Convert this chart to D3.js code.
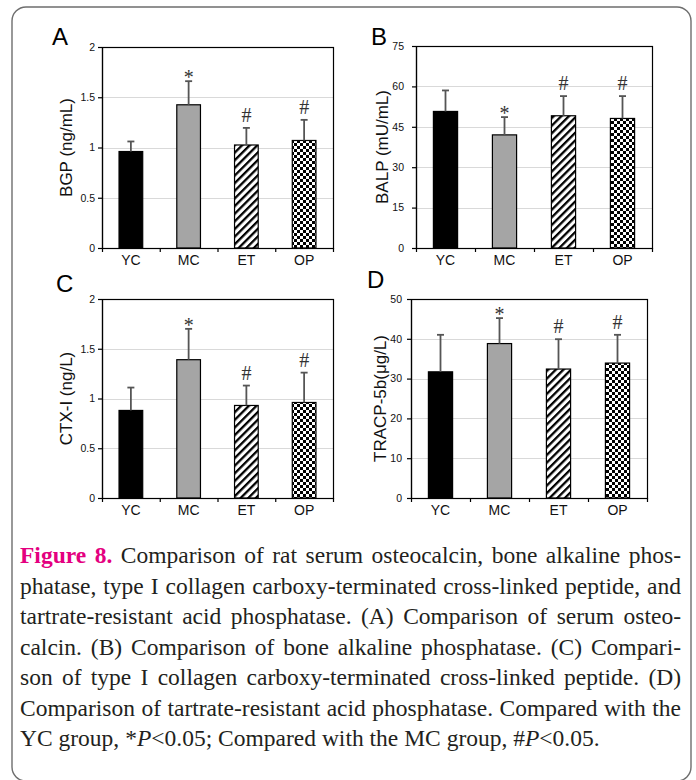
<!DOCTYPE html>
<html>
<head>
<meta charset="utf-8">
<script src="https://cdn.jsdelivr.net/npm/d3@7"></script>
<style>
  body { margin: 0; background: #fff; }
</style>
</head>
<body>
<div id="fig"></div>
<script>
// groups and significance marks (* vs YC, # vs MC)
var groups = ["YC", "MC", "ET", "OP"];
var marks = ["", "*", "#", "#"];

// A - BGP (ng/mL)
var bgpMean = [0.96, 1.425, 1.025, 1.07];
var bgpSd = [0.10, 0.235, 0.17, 0.205];
var bgpTicks = [0, 0.5, 1, 1.5, 2];

// B - BALP (mU/mL)
var balpMean = [50.7, 42.0, 49.1, 48.1];
var balpSd = [7.8, 6.6, 7.3, 8.3];
var balpTicks = [0, 15, 30, 45, 60, 75];

// C - CTX-I (ng/L)
var ctxMean = [0.88, 1.39, 0.93, 0.96];
var ctxSd = [0.23, 0.31, 0.20, 0.30];
var ctxTicks = [0, 0.5, 1, 1.5, 2];

// D - TRACP-5b (ug/L)
var tracpMean = [31.7, 38.8, 32.4, 33.9];
var tracpSd = [9.3, 6.4, 7.5, 7.1];
var tracpTicks = [0, 10, 20, 30, 40, 50];

// caption, one entry per printed line ("^" = bold magenta word, ~x~ = italic)
var captionLines = [
    "^Figure ^8. Comparison of rat serum osteocalcin, bone alkaline phos-",
    "phatase, type I collagen carboxy-terminated cross-linked peptide, and",
    "tartrate-resistant acid phosphatase. (A) Comparison of serum osteo-",
    "calcin. (B) Comparison of bone alkaline phosphatase. (C) Compari-",
    "son of type I collagen carboxy-terminated cross-linked peptide. (D)",
    "Comparison of tartrate-resistant acid phosphatase. Compared with the",
    "YC group, *~P~<0.05; Compared with the MC group, #~P~<0.05."
];

var W = 696, H = 780;
var svg = d3.select("#fig").append("svg")
    .attr("width", W)
    .attr("height", H)
    .style("display", "block");

// patterns for ET (hatch) and OP (checker)
var defs = svg.append("defs");
var hatch = defs.append("pattern")
    .attr("id", "hatch")
    .attr("patternUnits", "userSpaceOnUse")
    .attr("width", 5.4)
    .attr("height", 5.4)
    .attr("patternTransform", "rotate(45)");
hatch.append("rect").attr("width", 5.4).attr("height", 5.4).attr("fill", "#fff");
hatch.append("rect").attr("width", 2.3).attr("height", 5.4).attr("fill", "#000");

var checker = defs.append("pattern")
    .attr("id", "checker")
    .attr("patternUnits", "userSpaceOnUse")
    .attr("width", 6)
    .attr("height", 6);
checker.append("rect").attr("width", 6).attr("height", 6).attr("fill", "#fff");
checker.append("rect").attr("width", 3).attr("height", 3).attr("fill", "#000");
checker.append("rect").attr("x", 3).attr("y", 3).attr("width", 3).attr("height", 3).attr("fill", "#000");

var fills = ["#000", "#a5a5a5", "url(#hatch)", "url(#checker)"];

// outer rounded frame
svg.append("rect")
    .attr("x", 12)
    .attr("y", 7)
    .attr("width", 679)
    .attr("height", 774)
    .attr("rx", 14)
    .attr("fill", "none")
    .attr("stroke", "#6e6e6e")
    .attr("stroke-width", 1.4);

var panels = [
    {letter: "A", lx: 52, ly: 45, left: 102, top: 47, width: 231, height: 201,
        mean: bgpMean, sd: bgpSd, ticks: bgpTicks, title: "BGP (ng/mL)", tx: 66, labelGap: 7},
    {letter: "B", lx: 371, ly: 45, left: 416, top: 46, width: 236, height: 202,
        mean: balpMean, sd: balpSd, ticks: balpTicks, title: "BALP (mU/mL)", tx: 382, labelGap: 12},
    {letter: "C", lx: 56, ly: 292, left: 102, top: 299, width: 231, height: 199,
        mean: ctxMean, sd: ctxSd, ticks: ctxTicks, title: "CTX-I (ng/L)", tx: 66, labelGap: 7},
    {letter: "D", lx: 367, ly: 288, left: 411, top: 299, width: 236, height: 199,
        mean: tracpMean, sd: tracpSd, ticks: tracpTicks, title: "TRACP-5b(\u03bcg/L)", tx: 380, labelGap: 9}
];

panels.forEach(drawPanel);

function drawPanel(p) {
    var g = svg.append("g")
        .attr("transform", "translate(" + p.left + "," + p.top + ")")
        .attr("font-family", "'Liberation Sans', Arial, sans-serif");

    var x = d3.scaleBand().domain(groups).range([0, p.width]).padding(0);
    var y = d3.scaleLinear().domain([0, d3.max(p.ticks)]).range([p.height, 0]);
    var bw = x.bandwidth() * 0.41;

    // light gridlines
    g.selectAll("line.grid")
        .data(p.ticks.slice(1, -1))
        .enter()
        .append("line")
        .attr("class", "grid")
        .attr("x1", 0)
        .attr("x2", p.width)
        .attr("y1", function (d) { return Math.round(y(d)) + 0.5; })
        .attr("y2", function (d) { return Math.round(y(d)) + 0.5; })
        .attr("stroke", "#d9d9d9")
        .attr("stroke-width", 1);

    // bars
    g.selectAll("rect.bar")
        .data(p.mean)
        .enter()
        .append("rect")
        .attr("class", "bar")
        .attr("x", function (d, i) { return x(groups[i]) + (x.bandwidth() - bw) / 2; })
        .attr("y", function (d) { return y(d); })
        .attr("width", bw)
        .attr("height", function (d) { return y(0) - y(d); })
        .attr("fill", function (d, i) { return fills[i]; })
        .attr("stroke", "#000")
        .attr("stroke-width", 1.2);

    // error bars (upper only)
    var cx = function (i) { return x(groups[i]) + x.bandwidth() / 2; };
    var eb = g.selectAll("g.err")
        .data(p.mean)
        .enter()
        .append("g")
        .attr("class", "err");
    eb.append("line")
        .attr("x1", function (d, i) { return cx(i); })
        .attr("x2", function (d, i) { return cx(i); })
        .attr("y1", function (d) { return y(d); })
        .attr("y2", function (d, i) { return y(d + p.sd[i]); })
        .attr("stroke", "#555")
        .attr("stroke-width", 1.8);
    eb.append("line")
        .attr("x1", function (d, i) { return cx(i) - 3.5; })
        .attr("x2", function (d, i) { return cx(i) + 3.5; })
        .attr("y1", function (d, i) { return y(d + p.sd[i]); })
        .attr("y2", function (d, i) { return y(d + p.sd[i]); })
        .attr("stroke", "#555")
        .attr("stroke-width", 1.8);

    // significance marks
    g.selectAll("text.mark")
        .data(p.mean)
        .enter()
        .append("text")
        .attr("class", "mark")
        .attr("x", function (d, i) { return cx(i); })
        .attr("y", function (d, i) {
            return y(d + p.sd[i]) + (marks[i] === "*" ? 3 : -6);
        })
        .attr("text-anchor", "middle")
        .attr("font-family", "'Liberation Serif', 'Times New Roman', serif")
        .attr("font-size", 20)
        .attr("fill", "#333")
        .text(function (d, i) { return marks[i]; });

    // plot frame
    g.append("rect")
        .attr("x", 0.5)
        .attr("y", 0.5)
        .attr("width", p.width)
        .attr("height", p.height)
        .attr("fill", "none")
        .attr("stroke", "#000")
        .attr("stroke-width", 1.2);

    // y axis
    var yAxis = g.append("g")
        .call(d3.axisLeft(y)
            .tickValues(p.ticks)
            .tickSize(4)
            .tickSizeOuter(0)
            .tickPadding(p.labelGap - 4)
            .tickFormat(d3.format("")));
    yAxis.selectAll("text")
        .attr("font-family", "'Liberation Sans', Arial, sans-serif")
        .attr("font-size", 10.5)
        .attr("fill", "#111");
    yAxis.selectAll("line, path").attr("stroke", "#000").attr("stroke-width", 1.2);

    // x axis: ticks on category boundaries
    var xb = d3.scaleLinear().domain([0, groups.length]).range([0, p.width]);
    var xAxis = g.append("g")
        .attr("transform", "translate(0," + p.height + ")")
        .call(d3.axisBottom(xb)
            .tickValues(d3.range(groups.length + 1))
            .tickSize(4)
            .tickSizeOuter(0)
            .tickFormat(""));
    xAxis.selectAll("line, path").attr("stroke", "#000").attr("stroke-width", 1.2);

    g.selectAll("text.cat")
        .data(groups)
        .enter()
        .append("text")
        .attr("class", "cat")
        .attr("x", function (d) { return x(d) + x.bandwidth() / 2; })
        .attr("y", p.height + 17)
        .attr("text-anchor", "middle")
        .attr("font-size", 14)
        .attr("fill", "#111")
        .text(function (d) { return d; });

    // y title
    svg.append("text")
        .attr("transform", "translate(" + p.tx + "," + (p.top + p.height / 2) + ") rotate(-90)")
        .attr("text-anchor", "middle")
        .attr("dy", "0.35em")
        .attr("font-family", "'Liberation Sans', Arial, sans-serif")
        .attr("font-size", 17)
        .attr("fill", "#111")
        .text(p.title);

    // panel letter
    svg.append("text")
        .attr("x", p.lx)
        .attr("y", p.ly)
        .attr("font-family", "'Liberation Sans', Arial, sans-serif")
        .attr("font-size", 24)
        .attr("fill", "#000")
        .text(p.letter);
}

// caption, justified line by line
var capLeft = 20, capRight = 681, capTop = 563, capLead = 30.5;
var capG = svg.append("g")
    .attr("font-family", "'Liberation Serif', 'Times New Roman', serif")
    .attr("font-size", 23.5)
    .attr("fill", "#231f20");

captionLines.forEach(function (line, li) {
    var words = line.split(" ");
    var yy = capTop + li * capLead;
    var nodes = words.map(function (w) {
        var t = capG.append("text").attr("y", yy);
        var bold = w.charAt(0) === "^";
        if (bold) w = w.slice(1);
        w.split("~").forEach(function (seg, k) {
            if (!seg) return;
            var ts = t.append("tspan").text(seg);
            if (k % 2 === 1) ts.attr("font-style", "italic");
        });
        if (bold) t.attr("font-weight", "bold").attr("fill", "#e4007f");
        return t;
    });
    var widths = nodes.map(function (n) { return n.node().getComputedTextLength(); });
    var total = d3.sum(widths);
    var last = li === captionLines.length - 1;
    var gap = last ? 5.9 : (capRight - capLeft - total) / (words.length - 1);
    var pos = capLeft;
    nodes.forEach(function (n, i) {
        n.attr("x", pos);
        pos += widths[i] + gap;
    });
});
</script>
</body>
</html>
